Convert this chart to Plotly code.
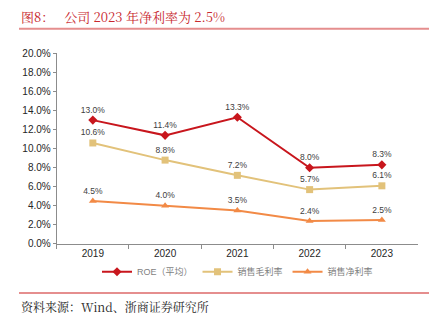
import plotly.graph_objects as go

years = ["2019", "2020", "2021", "2022", "2023"]
roe = [0.130, 0.114, 0.133, 0.080, 0.083]
gross = [0.106, 0.088, 0.072, 0.057, 0.061]
net = [0.045, 0.040, 0.035, 0.024, 0.025]
names = ["ROE（平均）", "销售毛利率", "销售净利率"]
yticks = [0, 0.02, 0.04, 0.06, 0.08, 0.10, 0.12, 0.14, 0.16, 0.18, 0.20]

W, H = 440, 325
colors = ["#C8161D", "#E2C27A", "#F28A46"]
symbols = ["diamond", "square", "triangle-up"]
sizes = [7, 7, 7]

fig = go.Figure()
for vals, nm, c, s, sz in zip([roe, gross, net], names, colors, symbols, sizes):
    fig.add_trace(go.Scatter(
        x=years, y=vals, name=nm, mode="lines+markers+text",
        line=dict(color=c, width=2),
        marker=dict(symbol=s, size=sz, color=c),
        text=[f"{v*100:.1f}%" for v in vals],
        textposition="top center",
        textfont=dict(family="Liberation Sans, Arial", size=8.5, color="#404040"),
        cliponaxis=False,
    ))

def px(x):
    return x / W

def py(y):
    return 1 - y / H

fig.update_layout(
    width=W, height=H,
    margin=dict(l=0, r=0, t=0, b=0),
    paper_bgcolor="white", plot_bgcolor="white",
    showlegend=True,
    legend=dict(orientation="h", x=px(97), y=py(276), yanchor="middle", xanchor="left",
                font=dict(family="Liberation Sans, Noto Sans CJK SC", size=9, color="#7f7f7f"),
                itemwidth=30, traceorder="normal",
                bgcolor="rgba(0,0,0,0)"),
    xaxis=dict(domain=[px(56.7), px(418)], range=[-0.5, 4.5], type="category",
               showline=True, linecolor="#8c8c8c", linewidth=1,
               ticks="outside", ticklen=4, tickcolor="#8c8c8c",
               tickson="boundaries",
               showgrid=False, zeroline=False,
               tickfont=dict(family="Liberation Sans, Arial", size=10, color="#262626"),
               anchor="y"),
    yaxis=dict(domain=[py(247), py(49.3)], range=[0, 0.2], tickvals=yticks,
               tickformat=".1%", showline=True, linecolor="#8c8c8c", linewidth=1,
               ticks="outside", ticklen=3, tickcolor="#8c8c8c",
               showgrid=False, zeroline=False,
               tickfont=dict(family="Liberation Sans, Arial", size=10, color="#262626"),
               anchor="x"),
    font=dict(family="Noto Sans CJK SC"),
)

fig.add_annotation(text="图8：   公司 2023 年净利率为 2.5%", xref="paper", yref="paper",
                   x=px(19), y=py(11), xanchor="left", yanchor="middle", showarrow=False,
                   font=dict(family="Noto Serif CJK SC, Noto Sans CJK SC", size=13, color="#C8282E"))
fig.add_shape(type="line", xref="paper", yref="paper", x0=px(19), x1=px(429), y0=py(23.5), y1=py(23.5),
              line=dict(color="#E58E8E", width=2))
fig.add_shape(type="line", xref="paper", yref="paper", x0=px(19), x1=px(429), y0=py(298), y1=py(298),
              line=dict(color="#E58E8E", width=2))
fig.add_annotation(text="资料来源：Wind、浙商证券研究所", xref="paper", yref="paper",
                   x=px(19), y=py(312), xanchor="left", yanchor="middle", showarrow=False,
                   font=dict(family="Noto Serif CJK SC, Noto Sans CJK SC", size=12, color="#262626"))

fig.write_html("out.html")
